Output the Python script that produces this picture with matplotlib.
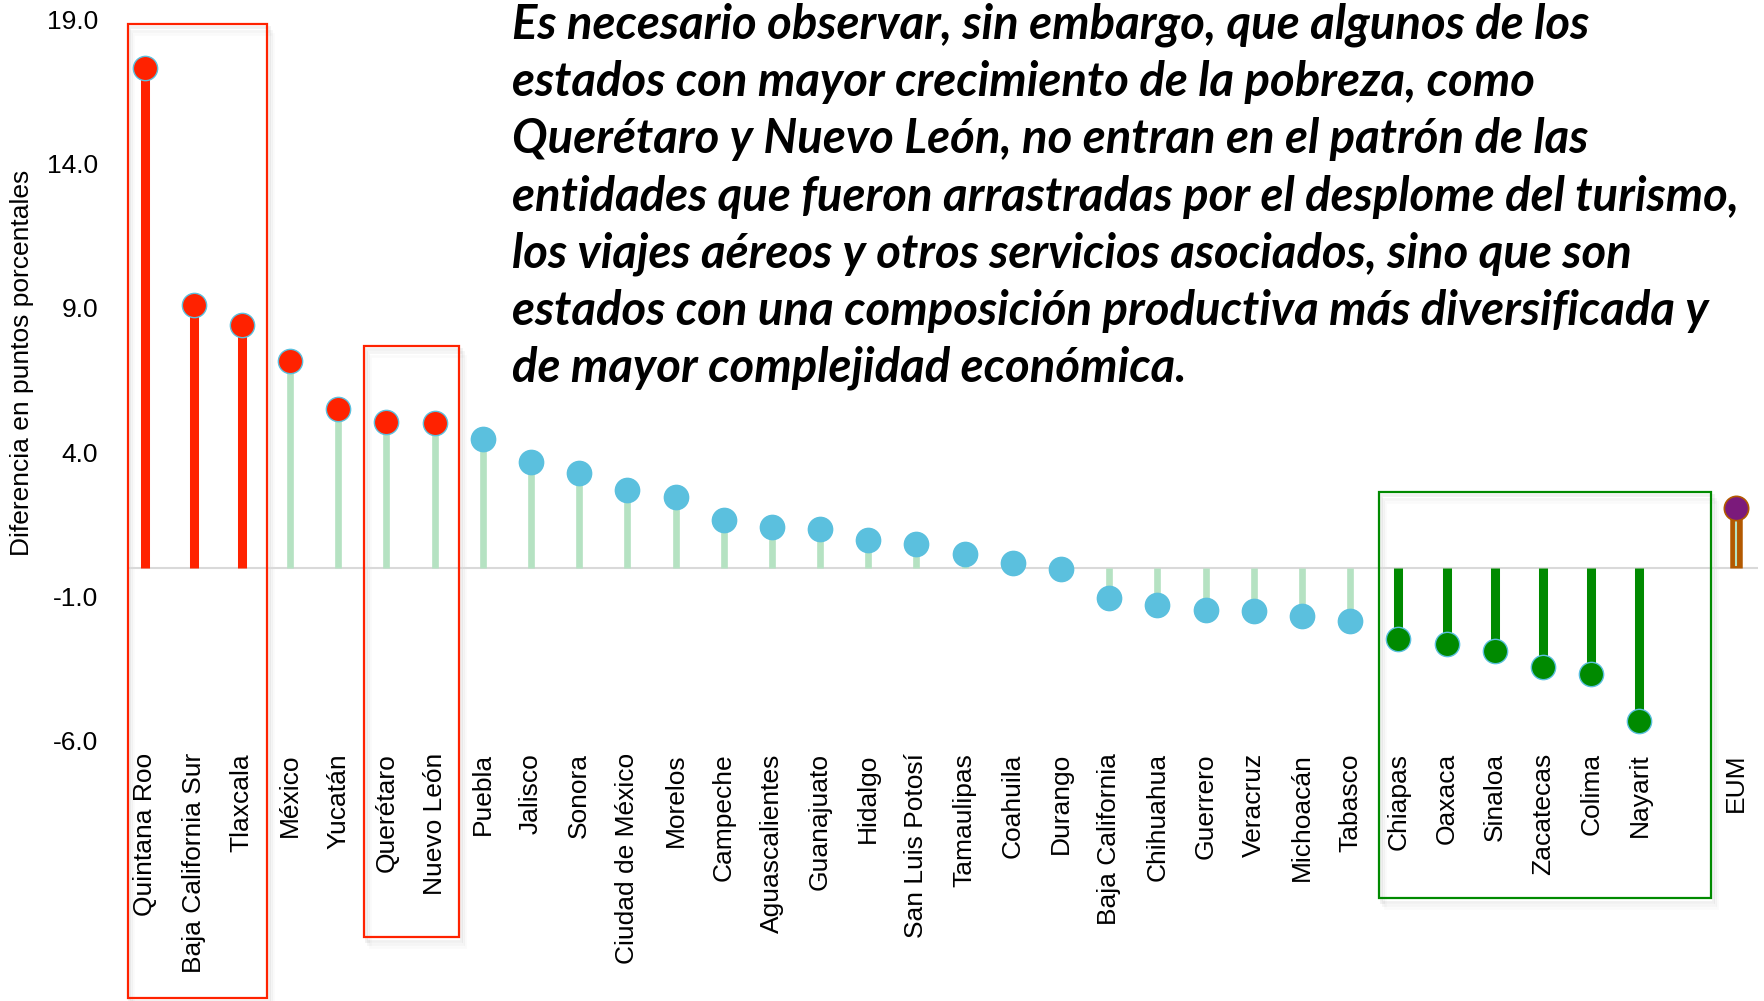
import matplotlib.pyplot as plt
from matplotlib.patches import Rectangle

estados = ['Quintana Roo', 'Baja California Sur', 'Tlaxcala', 'México', 'Yucatán',
           'Querétaro', 'Nuevo León', 'Puebla', 'Jalisco', 'Sonora', 'Ciudad de México',
           'Morelos', 'Campeche', 'Aguascalientes', 'Guanajuato', 'Hidalgo',
           'San Luis Potosí', 'Tamaulipas', 'Coahuila', 'Durango', 'Baja California',
           'Chihuahua', 'Guerrero', 'Veracruz', 'Michoacán', 'Tabasco', 'Chiapas',
           'Oaxaca', 'Sinaloa', 'Zacatecas', 'Colima', 'Nayarit']
diferencia = [17.3, 9.1, 8.4, 7.15, 5.5, 5.05, 5.0, 4.45, 3.67, 3.28, 2.7, 2.46,
              1.64, 1.4, 1.33, 0.94, 0.82, 0.47, 0.16, -0.06, -1.05, -1.29, -1.48,
              -1.52, -1.68, -1.84, -2.46, -2.66, -2.9, -3.44, -3.7, -5.3]
eum_label = 'EUM'
eum_valor = 2.07
yticks = [-6.0, -1.0, 4.0, 9.0, 14.0, 19.0]

texto = ["Es necesario observar, sin embargo, que algunos de los",
         "estados con mayor crecimiento de la pobreza, como",
         "Querétaro y Nuevo León, no entran en el patrón de las",
         "entidades que fueron arrastradas por el desplome del turismo,",
         "los viajes aéreos y otros servicios asociados, sino que son",
         "estados con una composición productiva más diversificada y",
         "de mayor complejidad económica."]

ROJO = '#ff2200'
VERDE_CLARO = '#b5e2c2'
CIAN = '#5bc0de'
VERDE = '#008a00'
MORADO = '#7b1a7b'
CAFE = '#b35900'

plt.rcParams['font.family'] = ['Liberation Sans', 'DejaVu Sans']

fig = plt.figure(figsize=(17.65, 10.01), dpi=100)
ax = fig.add_axes([0.072, 0.26, 0.924, 0.721])

ax.axhline(0, color='#d9d9d9', lw=1.5, zorder=1)

for i, (nombre, v) in enumerate(zip(estados, diferencia)):
    if i < 3:
        stem, mark, sw = ROJO, ROJO, 6.5
    elif i < 7:
        stem, mark, sw = VERDE_CLARO, ROJO, 4.8
    elif i < 26:
        stem, mark, sw = VERDE_CLARO, CIAN, 4.8
    else:
        stem, mark, sw = VERDE, VERDE, 6.5
    ax.plot([i, i], [0, v], color=stem, lw=sw, solid_capstyle='butt', zorder=2)
    ax.plot(i, v, 'o', ms=17.5, color=mark, mec=CIAN, mew=1, zorder=3)

xe = len(estados) + 1
ax.plot([xe, xe], [0, eum_valor], color=CAFE, lw=9, solid_capstyle='butt', zorder=2)
ax.plot([xe, xe], [0.1, eum_valor], color=VERDE_CLARO, lw=1.5, zorder=2)
ax.plot(xe, eum_valor, 'o', ms=17.5, color=MORADO, mec=CAFE, mew=1.2, zorder=3)

ax.set_xlim(-0.38, 33.46)
ax.set_ylim(-6, 19)
ax.set_xticks(list(range(len(estados))) + [xe])
ax.set_xticklabels(estados + [eum_label], rotation=90, va='top', fontsize=19)
ax.set_yticks(yticks)
ax.set_yticklabels([f'{t:.1f}' for t in yticks], fontsize=19)
ax.tick_params(length=0)
ax.tick_params(axis='x', pad=9)
ax.tick_params(axis='y', pad=21)
for s in ax.spines.values():
    s.set_visible(False)
ax.set_ylabel('Diferencia en puntos porcentales', fontsize=19)
ax.yaxis.set_label_coords(-0.057, 0.524)

# recuadros
cajas = [(-0.37, 2.53, -14.9, 18.83, ROJO),
         (4.54, 6.51, -12.8, 7.69, ROJO),
         (25.6, 32.49, -11.45, 2.63, VERDE)]
for x0, x1, y0, y1, c in cajas:
    for k, a in enumerate([0.06, 0.04, 0.02]):
        d = 0.04 * (k + 1)
        ax.add_patch(Rectangle((x0 + d, y0 - d * 3), x1 - x0, y1 - y0, fill=False,
                               ec='black', lw=2, alpha=a, clip_on=False, zorder=0))
    ax.add_patch(Rectangle((x0, y0), x1 - x0, y1 - y0, fill=False, ec=c, lw=1.6,
                           clip_on=False, zorder=4))

y = 1 - 25 / 1001
for linea in texto:
    fig.text(512 / 1765, y, linea, fontsize=34, fontweight='bold', style='italic',
             family=['Lato', 'DejaVu Sans'], va='center', ha='left')
    y -= 57.2 / 1001

fig.savefig('out.png', dpi=100)
